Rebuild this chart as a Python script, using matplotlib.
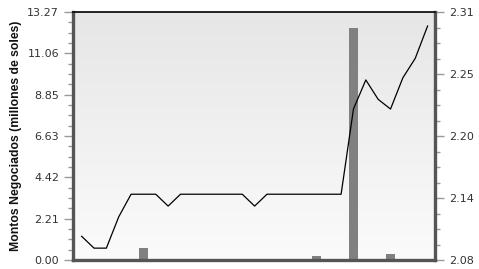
import numpy as np
import matplotlib
matplotlib.use("Agg")
import matplotlib.pyplot as plt
from matplotlib.ticker import FixedLocator
from matplotlib.colors import LinearSegmentedColormap

plt.rcParams['font.family'] = ['DejaVu Sans']

# Data
idx = list(range(29))
montos = [0.04, 0.04, 0.04, 0.06, 0.06, 0.66, 0.05, 0.04, 0.06, 0.06,
          0.04, 0.06, 0.04, 0.05, 0.06, 0.04, 0.06, 0.04, 0.04, 0.21,
          0.05, 0.05, 12.4, 0.05, 0.05, 0.32, 0.05, 0.04, 0.04]
precio = [2.102, 2.091, 2.091, 2.120, 2.141, 2.141, 2.141, 2.130, 2.141, 2.141,
          2.141, 2.141, 2.141, 2.141, 2.130, 2.141, 2.141, 2.141, 2.141, 2.141,
          2.141, 2.141, 2.220, 2.247, 2.229, 2.220, 2.249, 2.267, 2.297]
left_ticks = ["0.00", "2.21", "4.42", "6.63", "8.85", "11.06", "13.27"]
right_ticks = ["2.08", "2.14", "2.20", "2.25", "2.31"]
ylabel = "Montos Negociados (millones de soles)"

fig = plt.figure(figsize=(4.79, 2.69), dpi=100)
ax = fig.add_axes([73/479, 1-260/269, (435-73)/479, (260-12)/269])
ax2 = ax.twinx()

# background gradient
grad = np.linspace(0, 1, 256).reshape(-1, 1)
cmap = LinearSegmentedColormap.from_list('bg', ['#fbfbfb', '#e6e6e6'])
ax.imshow(grad, extent=[0, 1, 0, 1], transform=ax.transAxes, origin='lower',
          cmap=cmap, aspect='auto', zorder=0)

ax.bar(idx, montos, width=0.68, color='#808080', zorder=2)
ax.set_xlim(-0.7, 28.6)
ax.set_ylim(0, 13.27)
ax.set_xticks([])
lt = np.linspace(0, 13.27, 7)
ax.yaxis.set_major_locator(FixedLocator(lt))
ax.set_yticklabels(left_ticks)
ax.yaxis.set_minor_locator(FixedLocator(np.linspace(0, 13.27, 25)))
ax.set_ylabel(ylabel, fontsize=8.8, fontweight='bold', labelpad=4,
              family='Liberation Sans', color='#111111')

ax2.plot(idx, precio, color='black', lw=0.9, zorder=3)
ax2.set_ylim(2.08, 2.31)
rt = np.linspace(2.08, 2.31, 5)
ax2.yaxis.set_major_locator(FixedLocator(rt))
ax2.set_yticklabels(right_ticks)
ax2.yaxis.set_minor_locator(FixedLocator(np.linspace(2.08, 2.31, 17)))

for a in (ax, ax2):
    a.tick_params(axis='y', which='major', length=6.5, width=1, color='#999999',
                  labelsize=8, labelcolor='#333333', pad=3.5)
    a.tick_params(axis='y', which='minor', length=3.5, width=1, color='#999999')
    for s in a.spines.values():
        s.set_visible(False)

for side in ('left', 'right', 'bottom'):
    ax2.spines[side].set_visible(True)
    ax2.spines[side].set_linewidth(2.4)
    ax2.spines[side].set_color('#555555')
ax2.spines['top'].set_visible(True)
ax2.spines['top'].set_linewidth(1.3)
ax2.spines['top'].set_color('#111111')

fig.savefig('out.png', dpi=100)
